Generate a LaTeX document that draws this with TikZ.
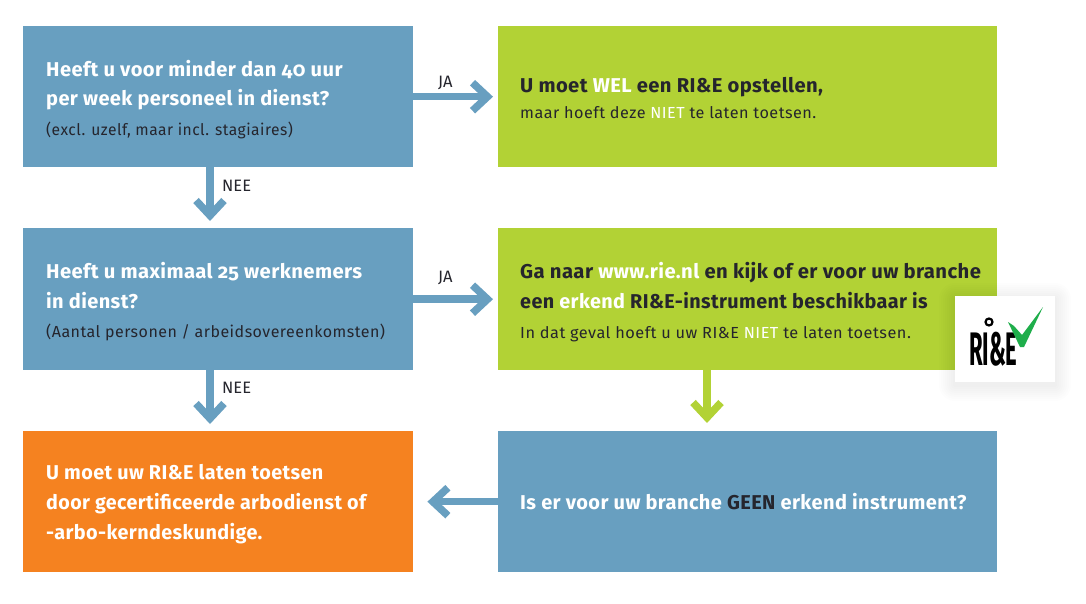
\documentclass[tikz,border=0pt]{standalone}
\usepackage{fontspec}
\setmainfont[Numbers=OldStyle]{Fira Sans}
\usetikzlibrary{arrows.meta}
\definecolor{bluebox}{HTML}{689FC0}
\definecolor{greenbox}{HTML}{B2D235}
\definecolor{orangebox}{HTML}{F58220}
\definecolor{inkdark}{HTML}{25252D}
\definecolor{checkgreen}{HTML}{1FAE4B}
\newcommand{\hl}[1]{\textcolor{inkdark}{#1}}
\newcommand{\wh}[1]{\textcolor{white}{#1}}
\tikzset{
  x=1pt,y=-1pt,
  box/.style={rectangle,draw=none,inner sep=0pt,anchor=north west},
  big/.style={anchor=base west,inner sep=0pt,text=white,font=\fontsize{20}{23}\selectfont\bfseries\addfontfeature{LetterSpace=2}},
  bigdark/.style={big,text=inkdark},
  small/.style={anchor=base west,inner sep=0pt,text=inkdark,font=\fontsize{16}{19}\selectfont\addfontfeature{LetterSpace=3}},
  answer/.style={anchor=base west,inner sep=0pt,text=inkdark,font=\fontsize{16.5}{19}\selectfont},
  flow/.style={line width=7.5pt,-{Straight Barb[length=15pt,width=28pt,line width=7.5pt]}},
}
\begin{document}
\begin{tikzpicture}
\useasboundingbox (0,0) rectangle (1086,604);
% boxes
\node[box,fill=bluebox,minimum width=390pt,minimum height=141pt] (q1) at (23,26) {};
\node[box,fill=greenbox,minimum width=499pt,minimum height=141pt] (r1) at (498,26) {};
\node[box,fill=bluebox,minimum width=390pt,minimum height=142pt] (q2) at (23,228) {};
\node[box,fill=greenbox,minimum width=499pt,minimum height=142pt] (r2) at (498,228) {};
\node[box,fill=orangebox,minimum width=390pt,minimum height=141pt] (r3) at (23,431) {};
\node[box,fill=bluebox,minimum width=499pt,minimum height=141pt] (q3) at (498,431) {};
% connector guides
\coordinate (xleft) at (210,0);
\coordinate (xright) at (707,0);
% connectors
\draw[flow,bluebox,shorten >=5pt] (q1.east) -- (r1.west);
\draw[flow,bluebox,shorten >=5pt] (q2.east) -- (r2.west);
\draw[flow,bluebox,shorten >=7pt] (q1.south -| xleft) -- (q2.north -| xleft);
\draw[flow,bluebox,shorten >=7pt] (q2.south -| xleft) -- (r3.north -| xleft);
\draw[flow,greenbox,shorten >=8pt] (r2.south -| xright) -- (q3.north -| xright);
\draw[flow,bluebox,shorten >=14pt] (q3.west) -- (r3.east);
% connector labels
\node[answer] (ja1) at (438,88) {JA};
\node[answer] (ja2) at (438,282) {JA};
\node[answer] (nee1) at (222,191) {NEE};
\node[answer] (nee2) at (222,393) {NEE};
% q1
\node[big,xscale=1.006] (q1a) at (46,76.5) {Heeft u voor minder dan 40 uur};
\node[big] (q1b) at (46,106) {per week personeel in dienst?};
\node[small,xscale=0.976] (q1c) at (46,136) {(excl. uzelf, maar incl. stagiaires)};
% r1
\node[bigdark,xscale=1.01] (r1a) at (520,92.5) {U moet \wh{WEL} een RI\&E opstellen,};
\node[small,xscale=1.013] (r1b) at (520,119) {maar hoeft deze \wh{NIET} te laten toetsen.};
% q2
\node[big,xscale=1.012] (q2a) at (46,278) {Heeft u maximaal 25 werknemers};
\node[big] (q2b) at (46,308) {in dienst?};
\node[small] (q2c) at (46,337) {(Aantal personen / arbeidsovereenkomsten)};
% r2
\node[bigdark,xscale=1.013] (r2a) at (520,278) {Ga naar \wh{www.rie.nl} en kijk of er voor uw branche};
\node[bigdark,xscale=0.99] (r2b) at (520,308) {een \wh{erkend} RI\&E-instrument beschikbaar is};
\node[small,xscale=1.02] (r2c) at (520,338) {In dat geval hoeft u uw RI\&E \wh{NIET} te laten toetsen.};
% r3
\node[big,xscale=0.99] (r3a) at (46,479) {U moet uw RI\&E laten toetsen};
\node[big,xscale=0.984] (r3b) at (46,509) {door gecertificeerde arbodienst of};
\node[big,xscale=0.99] (r3c) at (46,539) {-arbo-kerndeskundige.};
% q3
\node[big] (q3a) at (520,509) {Is er voor uw branche \hl{GEEN} erkend instrument?};
% logo
\foreach \s in {16,14,12,10,8,6,4,2}
  \fill[black,opacity=0.009,rounded corners=\s pt] (955-\s,296-\s+3) rectangle (1055+\s,382+\s+3);
\node[box,fill=white,minimum width=100pt,minimum height=86pt] (logo) at (955,296) {};
\node[anchor=base west,inner sep=0pt,text=black,font=\fontsize{47}{47}\selectfont\bfseries,xscale=0.47] (logotext) at (969,365) {RI\&E};
\draw[black,line width=2.2pt] (989,322) circle (3.5pt);
\fill[checkgreen] (1008,322) -- (1014,326) -- (1022,335) -- (1043,307) -- (1024,347) -- (1020,347) -- cycle;
\end{tikzpicture}
\end{document}
